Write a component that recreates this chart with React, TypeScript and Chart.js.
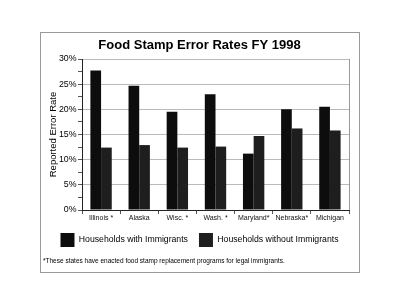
import React, { useEffect, useRef } from "react";
import { Chart, registerables } from "chart.js";

Chart.register(...registerables);

const categories = ["Illinois *", "Alaska", "Wisc. *", "Wash. *", "Maryland*", "Nebraska*", "Michigan"];
const withImmigrants = [27.7, 24.7, 19.5, 23.0, 11.2, 20.0, 20.5];
const withoutImmigrants = [12.4, 12.9, 12.4, 12.6, 14.7, 16.2, 15.8];
const yTickValues = [0, 5, 10, 15, 20, 25, 30];

const FONT = "'Liberation Sans', Arial, Helvetica, sans-serif";

const plotBorder = {
  id: "plotBorder",
  afterDraw(chart: any) {
    const { ctx, chartArea } = chart;
    ctx.save();
    ctx.strokeStyle = "#999";
    ctx.lineWidth = 1;
    ctx.beginPath();
    ctx.moveTo(Math.round(chartArea.right) + 0.5, chartArea.top);
    ctx.lineTo(Math.round(chartArea.right) + 0.5, chartArea.bottom);
    ctx.stroke();
    ctx.restore();
  },
};

export default function App() {
  const ref = useRef<HTMLCanvasElement | null>(null);

  useEffect(() => {
    if (!ref.current) return;
    const chart = new Chart(ref.current, {
      type: "bar",
      data: {
        labels: categories,
        datasets: [
          {
            label: "Households with Immigrants",
            data: withImmigrants,
            backgroundColor: "#0d0d0d",
            borderWidth: 0,
            yAxisID: "y",
          },
          {
            label: "Households without Immigrants",
            data: withoutImmigrants,
            backgroundColor: "#1e1e1e",
            borderWidth: 0,
            yAxisID: "y",
          },
        ],
      },
      options: {
        responsive: false,
        animation: false,
        layout: { padding: { left: 40, right: 41, top: 32, bottom: 51 } },
        datasets: {
          bar: { categoryPercentage: 0.56, barPercentage: 1 },
        },
        plugins: {
          title: {
            display: true,
            text: "Food Stamp Error Rates FY 1998",
            color: "#000",
            font: { family: FONT, size: 13, weight: "bold" },
            padding: { top: 6, bottom: 5.4 },
          },
          legend: {
            position: "bottom",
            labels: {
              boxWidth: 14,
              boxHeight: 14,
              padding: 11,
              color: "#000",
              font: { family: FONT, size: 8.7 },
            },
          },
          tooltip: { enabled: false },
        },
        scales: {
          x: {
            grid: {
              display: true,
              drawOnChartArea: false,
              drawTicks: true,
              tickLength: 4,
              color: "#555",
              offset: true,
            },
            border: { color: "#222", width: 1 },
            ticks: {
              color: "#111",
              padding: 0,
              font: { family: FONT, size: 7 },
              maxRotation: 0,
              autoSkip: false,
            },
            afterFit: (s: any) => {
              s.height = 12;
            },
          },
          y: {
            min: 0,
            max: 30,
            position: "left",
            title: {
              display: true,
              text: "Reported Error Rate",
              color: "#000",
              font: { family: FONT, size: 9.5 },
              padding: { top: 8, bottom: 0 },
            },
            ticks: {
              stepSize: 2.5,
              autoSkip: false,
              padding: 1.5,
              color: "#000",
              font: { family: FONT, size: 8.8 },
              callback: (v: any) => (yTickValues.includes(Number(v)) ? v + "%" : ""),
            },
            grid: {
              color: (c: any) => (c.tick && yTickValues.includes(c.tick.value) ? "#bbb" : "rgba(0,0,0,0)"),
              tickColor: "#555",
              tickLength: 4,
            },
            border: { color: "#222", width: 1 },
            afterFit: (s: any) => {
              s.width = 42;
            },
          },
          yRight: {
            type: "linear",
            position: "right",
            display: true,
            grid: { display: false, drawTicks: false },
            border: { display: false },
            ticks: { display: false },
            afterFit: (s: any) => {
              s.width = 10;
            },
          },
        },
      },
      plugins: [plotBorder],
    } as any);
    return () => chart.destroy();
  }, []);

  return (
    <div style={{ position: "absolute", left: 0, top: 0, width: 400, height: 308, background: "#fff" }}>
      <div
        style={{
          position: "absolute",
          left: 40,
          top: 32,
          width: 320,
          height: 241,
          boxSizing: "border-box",
          border: "1px solid #999",
        }}
      />
      <canvas ref={ref} width={400} height={308} style={{ position: "absolute", left: 0, top: 0 }} />
      <div
        style={{
          position: "absolute",
          left: 43,
          top: 257,
          fontFamily: FONT,
          fontSize: "6.5px",
          lineHeight: "8px",
          color: "#000",
          whiteSpace: "nowrap",
        }}
      >
        *These states have enacted food stamp replacement programs for legal immigrants.
      </div>
    </div>
  );
}
